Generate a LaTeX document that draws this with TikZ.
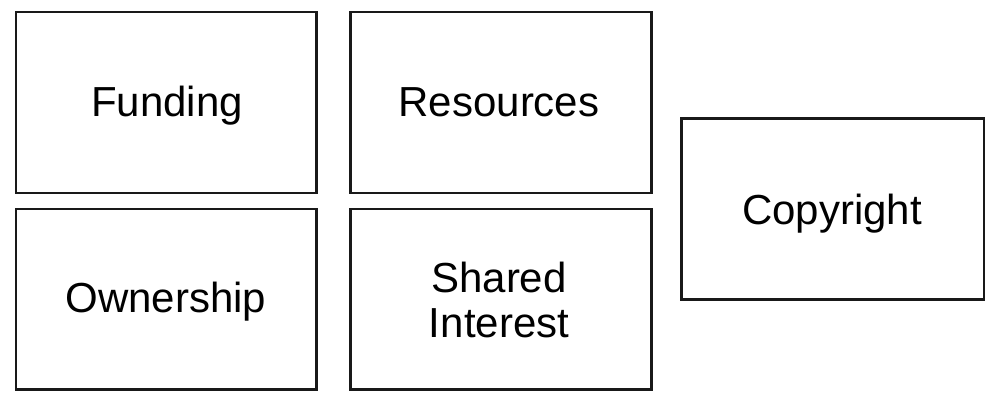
\documentclass[tikz,border=0pt]{standalone}
\usepackage{fontspec}
\setmainfont{Liberation Sans}
\begin{document}
\begin{tikzpicture}[x=1pt,y=-1pt,
  box/.style={draw=black!90,line width=2.8pt,fill=white},
  lbl/.style={font=\fontsize{42}{45}\selectfont,inner sep=0pt,anchor=base}]
\useasboundingbox (0,0) rectangle (987,398);
\draw[box] (16,12) rectangle (316.5,193);
\draw[box] (350.5,12) rectangle (651.5,193);
\draw[box] (16,209) rectangle (316.5,389.5);
\draw[box] (350.5,209) rectangle (651.5,389.5);
\draw[box] (681.5,118.5) rectangle (984,299.5);
\node[lbl] (funding) at (167,117) {Funding};
\node[lbl] (resources) at (499,117) {Resources};
\node[lbl] (ownership) at (166,312) {Ownership};
\node[lbl] (shared) at (499,292) {Shared};
\node[lbl] (interest) at (499,337) {Interest};
\node[lbl] (copyright) at (832,224) {Copyright};
\end{tikzpicture}
\end{document}
